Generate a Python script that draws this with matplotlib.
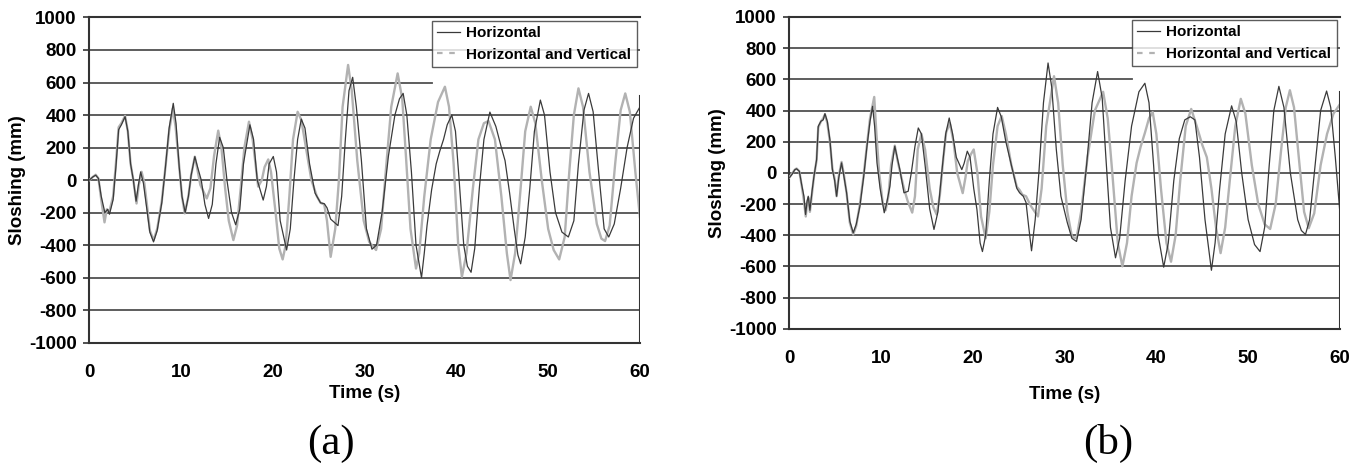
import matplotlib
matplotlib.use("Agg")
import matplotlib.pyplot as plt
from matplotlib.lines import Line2D

plt.rcParams['font.family'] = ['Liberation Sans', 'DejaVu Sans']
plt.rcParams['axes.unicode_minus'] = False

# (time s, sloshing mm)
a_h = [(0.0, 0), (0.4, 20), (0.7, 30), (1.0, 10), (1.3, -100), (1.7, -200), (2.0, -180), (2.2, -210),
       (2.6, -120), (2.9, 80), (3.2, 310), (3.5, 340), (3.9, 390), (4.2, 300), (4.5, 100), (4.8, 0),
       (5.1, -130), (5.35, -30), (5.6, 50), (5.9, -20), (6.2, -150), (6.6, -320), (7.0, -380), (7.4, -310),
       (7.9, -140), (8.3, 80), (8.7, 320), (9.15, 472), (9.45, 350), (9.8, 80), (10.1, -100), (10.45, -200),
       (10.8, -100), (11.1, 30), (11.5, 144), (11.8, 80), (12.2, 0), (12.6, -150), (13.0, -236), (13.4, -150),
       (13.8, 100), (14.2, 263), (14.6, 200), (15.0, 0), (15.5, -200), (15.95, -275), (16.4, -180), (16.8, 100),
       (17.5, 340), (17.9, 250), (18.3, 0), (18.95, -123), (19.3, -40), (19.6, 100), (20.05, 145), (20.4, 50),
       (20.8, -250), (21.5, -430), (21.9, -300), (22.3, 0), (22.7, 250), (23.1, 375), (23.5, 320), (24.0, 100),
       (24.6, -80), (25.2, -140), (25.6, -145), (25.9, -170), (26.3, -240), (26.7, -260), (27.1, -280),
       (27.5, -100), (27.9, 250), (28.3, 550), (28.7, 632), (29.1, 450), (29.65, 120), (30.2, -300),
       (30.8, -425), (31.3, -400), (31.9, -200), (32.6, 150), (33.3, 400), (33.8, 500), (34.2, 533),
       (34.6, 400), (35.1, 50), (35.6, -400), (36.2, -600), (36.5, -450), (36.8, -280), (37.3, -60),
       (37.8, 100), (38.2, 180), (38.6, 250), (39.0, 340), (39.5, 400), (39.9, 300), (40.3, 0), (40.8, -400),
       (41.2, -530), (41.6, -567), (42.0, -420), (42.5, -50), (43.0, 250), (43.65, 418), (44.3, 330),
       (44.9, 200), (45.3, 120), (45.8, -80), (46.3, -300), (46.7, -460), (47.0, -515), (47.5, -350),
       (48.0, -50), (48.5, 300), (49.15, 492), (49.6, 400), (50.2, 50), (50.8, -200), (51.5, -320),
       (52.2, -350), (52.8, -250), (53.3, 100), (53.9, 430), (54.4, 533), (54.9, 420), (55.5, 50),
       (56.1, -300), (56.6, -350), (57.2, -270), (57.9, -50), (58.6, 200), (59.3, 380), (60.0, 450)]

a_hv = [(0.0, 0), (0.4, 20), (0.7, 33), (1.0, 10), (1.3, -120), (1.66, -260), (1.9, -180), (2.2, -190),
        (2.6, -100), (2.9, 100), (3.2, 325), (3.5, 350), (3.9, 395), (4.2, 300), (4.5, 100), (4.8, 0),
        (5.15, -144), (5.4, -30), (5.7, 51), (6.0, -20), (6.3, -160), (6.6, -310), (7.0, -370), (7.4, -300),
        (7.9, -130), (8.3, 80), (8.7, 300), (9.1, 440), (9.4, 330), (9.8, 80), (10.1, -100), (10.4, -205),
        (10.8, -100), (11.1, 30), (11.5, 144), (11.8, 60), (12.1, -30), (12.8, -113), (13.2, -50),
        (13.6, 150), (14.05, 304), (14.4, 200), (14.8, -50), (15.2, -250), (15.7, -369), (16.1, -280),
        (16.5, -50), (16.9, 200), (17.4, 359), (17.8, 250), (18.4, -40), (18.8, 0), (19.1, 80), (19.5, 127),
        (19.8, 50), (20.3, -200), (20.7, -420), (21.07, -488), (21.4, -400), (21.8, -100), (22.2, 250),
        (22.7, 420), (23.1, 370), (23.6, 200), (24.2, 0), (24.8, -100), (25.2, -140), (25.6, -150),
        (25.9, -250), (26.3, -472), (26.8, -300), (27.2, 0), (27.6, 450), (28.2, 708), (28.6, 550),
        (29.2, 120), (29.9, -250), (30.5, -380), (31.25, -430), (31.8, -300), (32.3, 50), (32.9, 450),
        (33.6, 656), (34.1, 500), (34.5, 150), (35.0, -300), (35.6, -544), (35.95, -450), (36.5, -100),
        (37.2, 250), (38.0, 480), (38.75, 574), (39.2, 450), (39.7, 100), (40.2, -400), (40.6, -595),
        (41.1, -450), (41.8, -50), (42.4, 250), (43.0, 350), (43.5, 363), (44.2, 250), (44.9, -100),
        (45.5, -450), (45.9, -615), (46.4, -450), (47.0, -50), (47.5, 300), (48.1, 451), (48.6, 350),
        (49.3, 0), (50.0, -300), (50.6, -430), (51.2, -488), (51.8, -350), (52.3, 50), (52.8, 400),
        (53.3, 564), (53.8, 450), (54.5, 50), (55.3, -270), (55.8, -360), (56.2, -375), (56.7, -280),
        (57.3, 100), (57.9, 430), (58.4, 533), (58.9, 420), (59.5, 50), (60.0, -228)]

b_h = [(0.0, -32), (0.3, -10), (0.6, 20), (0.8, 26), (1.1, 10), (1.35, -75), (1.6, -150), (1.78, -267),
       (1.95, -180), (2.07, -150), (2.25, -240), (2.5, -110), (2.7, -20), (2.98, 85), (3.16, 299),
       (3.45, 331), (3.7, 340), (3.89, 380), (4.15, 330), (4.43, 213), (4.7, 21), (4.95, -50), (5.16, -150),
       (5.4, -30), (5.7, 64), (5.95, -20), (6.25, -128), (6.6, -310), (6.97, -385), (7.3, -330), (7.7, -214),
       (8.1, -30), (8.47, 171), (8.8, 330), (9.08, 427), (9.3, 300), (9.56, 64), (9.9, -100), (10.35, -256),
       (10.6, -200), (10.97, -85), (11.2, 50), (11.5, 171), (11.8, 90), (12.05, 21), (12.5, -128),
       (12.96, -118), (13.3, 0), (13.7, 171), (14.06, 288), (14.4, 250), (14.8, 50), (15.3, -230),
       (15.77, -363), (16.2, -250), (16.7, 50), (17.05, 250), (17.43, 352), (17.8, 250), (18.2, 100),
       (18.8, 21), (19.05, 60), (19.4, 139), (19.7, 100), (20.1, -100), (20.45, -235), (20.8, -450),
       (21.05, -505), (21.4, -400), (21.8, -50), (22.2, 250), (22.7, 420), (23.1, 360), (23.6, 200),
       (24.4, 0), (24.8, -100), (25.1, -128), (25.5, -150), (25.8, -190), (26.1, -350), (26.4, -500),
       (26.8, -300), (27.2, 0), (27.7, 450), (28.2, 705), (28.6, 550), (29.1, 150), (29.6, -150),
       (30.3, -320), (30.8, -420), (31.3, -440), (31.8, -300), (32.4, 50), (33.0, 450), (33.6, 650),
       (34.1, 480), (34.5, 100), (35.0, -350), (35.55, -545), (36.0, -420), (36.6, -50), (37.3, 300),
       (38.1, 520), (38.75, 575), (39.2, 450), (39.7, 50), (40.2, -400), (40.8, -605), (41.3, -450),
       (41.9, -50), (42.5, 220), (43.1, 340), (43.7, 360), (44.2, 340), (44.7, 100), (45.3, -300),
       (46.0, -625), (46.4, -450), (46.9, -100), (47.5, 250), (48.2, 430), (48.7, 330), (49.3, 0),
       (50.0, -300), (50.7, -460), (51.3, -505), (51.8, -350), (52.3, 50), (52.8, 400), (53.35, 555),
       (53.9, 420), (54.6, 0), (55.4, -300), (55.8, -370), (56.25, -395), (56.7, -300), (57.3, 50),
       (57.9, 400), (58.55, 525), (59.0, 420), (59.5, 100), (60.0, -256)]

b_hv = [(0.0, -30), (0.3, -5), (0.6, 20), (0.8, 28), (1.1, 10), (1.35, -80), (1.6, -180), (1.8, -280),
        (1.95, -190), (2.1, -160), (2.25, -250), (2.5, -120), (2.7, -20), (2.98, 80), (3.16, 290),
        (3.45, 330), (3.7, 350), (3.89, 375), (4.15, 320), (4.43, 200), (4.7, 30), (4.95, -40), (5.16, -150),
        (5.4, -20), (5.7, 70), (5.95, -10), (6.25, -130), (6.6, -320), (6.97, -395), (7.3, -340), (7.7, -200),
        (8.1, -20), (8.47, 180), (8.8, 350), (9.26, 487), (9.5, 250), (9.8, 0), (10.2, -200), (10.5, -240),
        (10.8, -150), (11.1, 50), (11.5, 175), (11.8, 80), (12.1, 0), (12.5, -100), (12.9, -180),
        (13.4, -255), (13.7, -150), (14.0, 150), (14.4, 250), (14.8, 150), (15.3, -100), (15.7, -220),
        (16.06, -267), (16.4, -150), (16.8, 100), (17.1, 260), (17.5, 320), (17.9, 200), (18.3, 0),
        (18.9, -130), (19.2, -30), (19.45, 75), (19.8, 120), (20.1, 150), (20.5, 0), (20.9, -280),
        (21.4, -420), (21.8, -250), (22.2, 50), (22.7, 300), (23.15, 365), (23.6, 250), (24.2, 50),
        (24.8, -90), (25.1, -110), (25.4, -140), (25.8, -150), (26.3, -210), (27.1, -280), (27.5, -100),
        (28.0, 300), (28.85, 620), (29.3, 450), (29.8, 50), (30.3, -250), (30.8, -410), (31.3, -420),
        (31.8, -250), (32.5, 100), (33.3, 400), (34.2, 520), (34.7, 350), (35.2, 0), (35.8, -450),
        (36.3, -600), (36.8, -450), (37.3, -150), (37.85, 64), (38.3, 170), (38.75, 256), (39.2, 350),
        (39.6, 390), (40.0, 250), (40.5, -100), (41.1, -450), (41.6, -570), (42.1, -400), (42.6, -50),
        (43.2, 300), (43.8, 410), (44.4, 300), (45.0, 180), (45.5, 100), (46.0, -100), (46.5, -350),
        (47.0, -515), (47.5, -350), (48.0, -50), (48.6, 300), (49.2, 475), (49.7, 380), (50.4, 50),
        (51.1, -200), (51.8, -330), (52.4, -360), (53.0, -200), (53.6, 150), (54.1, 420), (54.55, 530),
        (55.0, 420), (55.6, 50), (56.1, -250), (56.6, -355), (57.2, -260), (57.9, 50), (58.6, 250),
        (59.3, 380), (60.0, 440)]

x_ticks = [0, 10, 20, 30, 40, 50, 60]
y_ticks = list(range(-1000, 1001, 200))
labels = ['Horizontal', 'Horizontal and Vertical']
dark = '#3a3a3a'
light = '#b2b2b2'


def panel(ax, h, hv, tag, tag_x):
    t1, y1 = zip(*hv)
    t2, y2 = zip(*h)
    ax.plot(t1, y1, color=light, lw=1.7, zorder=3)
    ax.plot(t2, y2, color=dark, lw=0.9, zorder=4)
    ax.set_xlim(0, 60)
    ax.set_ylim(-1000, 1000)
    # grid, 600 line stops short (as in the original)
    for v in y_ticks[1:-1]:
        xmax = 0.6225 if v == 600 else 1.0
        ax.axhline(v, xmin=0, xmax=xmax, color='#505050', lw=1.3, zorder=1)
    ax.spines['right'].set_visible(False)
    ax.axvline(60, ymin=0, ymax=0.76, color='#333333', lw=1.5, zorder=5)
    for s in ['left', 'bottom', 'top']:
        ax.spines[s].set_color('#333333')
        ax.spines[s].set_linewidth(1.5)
    ax.set_xticks(x_ticks)
    ax.set_yticks(y_ticks)
    ax.tick_params(axis='x', length=0, pad=15, labelsize=13.5)
    ax.tick_params(axis='y', length=4, width=1.2, color='#333333', pad=5, labelsize=13.5)
    for lab in ax.get_xticklabels() + ax.get_yticklabels():
        lab.set_fontweight('bold')
    ax.set_xlabel('Time (s)', fontsize=13.5, fontweight='bold', labelpad=3)
    ax.set_ylabel('Sloshing (mm)', fontsize=13.5, fontweight='bold', labelpad=2)
    handles = [Line2D([], [], color=dark, lw=0.9),
               Line2D([], [], color=light, lw=1.6, ls=(0, (2.5, 3)))]
    leg = ax.legend(handles, labels, loc='upper right', bbox_to_anchor=(0.994, 0.99),
                    prop={'weight': 'bold', 'size': 11}, frameon=True, fancybox=False,
                    handlelength=1.5, handletextpad=0.4, labelspacing=0.5,
                    borderpad=0.35, borderaxespad=0)
    leg.get_frame().set_edgecolor('#333333')
    leg.get_frame().set_linewidth(1.0)
    leg.set_zorder(6)
    fig.text(tag_x, 0.05, tag, ha='center', va='center', fontsize=31,
             family=['Liberation Serif', 'DejaVu Serif'])


fig = plt.figure(figsize=(13.61, 4.67), dpi=100)
ax_a = fig.add_axes([0.0656, 0.2662, 0.4046, 0.6964])
ax_b = fig.add_axes([0.5799, 0.2961, 0.4046, 0.6675])
panel(ax_a, a_h, a_hv, '(a)', 0.243)
panel(ax_b, b_h, b_hv, '(b)', 0.814)
ax_b.xaxis.labelpad = 14

fig.savefig('out.png', dpi=100)
